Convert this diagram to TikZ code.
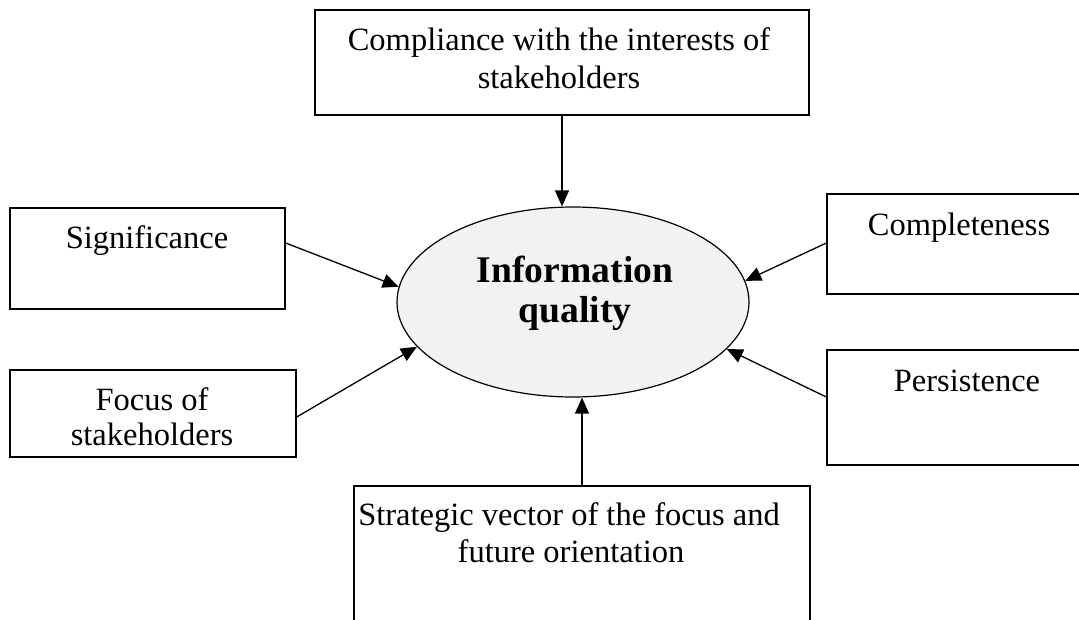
\documentclass[tikz,border=0pt]{standalone}
\usepackage{fontspec}
\setmainfont{Liberation Serif}
\usetikzlibrary{arrows.meta,shapes.geometric}
\begin{document}
\begin{tikzpicture}[x=1pt,y=-1pt,
 box/.style={draw, line width=1.3pt, rectangle, inner sep=0pt},
 lbl/.style={anchor=base, inner sep=0pt, font=\fontsize{32.5}{37}\selectfont},
 blbl/.style={anchor=base, inner sep=0pt, font=\fontsize{37.6}{42}\selectfont\bfseries},
 arr/.style={line width=1.3pt, -{Triangle[length=16pt,width=14pt]}}]
\useasboundingbox (0,0) rectangle (1079,619);
% boxes
\node[box, minimum width=494pt, minimum height=105pt] (top) at (562,62.5) {};
\node[box, minimum width=275pt, minimum height=101pt] (sig) at (147.5,258.5) {};
\node[box, minimum width=286pt, minimum height=87pt] (foc) at (153,413.5) {};
\node[box, minimum width=268pt, minimum height=100pt] (comp) at (961,244) {};
\node[box, minimum width=268pt, minimum height=115pt] (pers) at (961,407.5) {};
\node[box, minimum width=456pt, minimum height=154pt] (bot) at (582,563) {};
% ellipse
\node[ellipse, draw, fill=gray!10, line width=1.2pt, minimum width=352pt, minimum height=190pt, inner sep=0pt] (iq) at (573,302) {};
% texts
\node[lbl] (topa) at (559,50) {Compliance with the interests of};
\node[lbl] (topb) at (559,88) {stakeholders};
\node[lbl] (sigt) at (147,248) {Significance};
\node[lbl] (foca) at (152,410) {Focus of};
\node[lbl] (focb) at (152,445) {stakeholders};
\node[lbl] (compt) at (959,235) {Completeness};
\node[lbl] (perst) at (967,391) {Persistence};
\node[lbl] (bota) at (569,525) {Strategic vector of the focus and};
\node[lbl] (botb) at (571,562) {future orientation};
\node[blbl] (iqa) at (575,282) {Information};
\node[blbl] (iqb) at (575,322) {quality};
% arrows
\draw[arr] (top.south) -- (iq.north -| top.south);
\draw[arr] (bot.north) -- (iq.south -| bot.north);
\draw[arr] ([yshift=15.5pt]sig.east) -- (iq.175);
\draw[arr] ([yshift=-3.5pt]foc.east) -- (iq.196);
\draw[arr] ([yshift=1pt]comp.west) -- (iq.7);
\draw[arr] ([yshift=10.5pt]pers.west) -- (iq.-17);
\end{tikzpicture}
\end{document}
